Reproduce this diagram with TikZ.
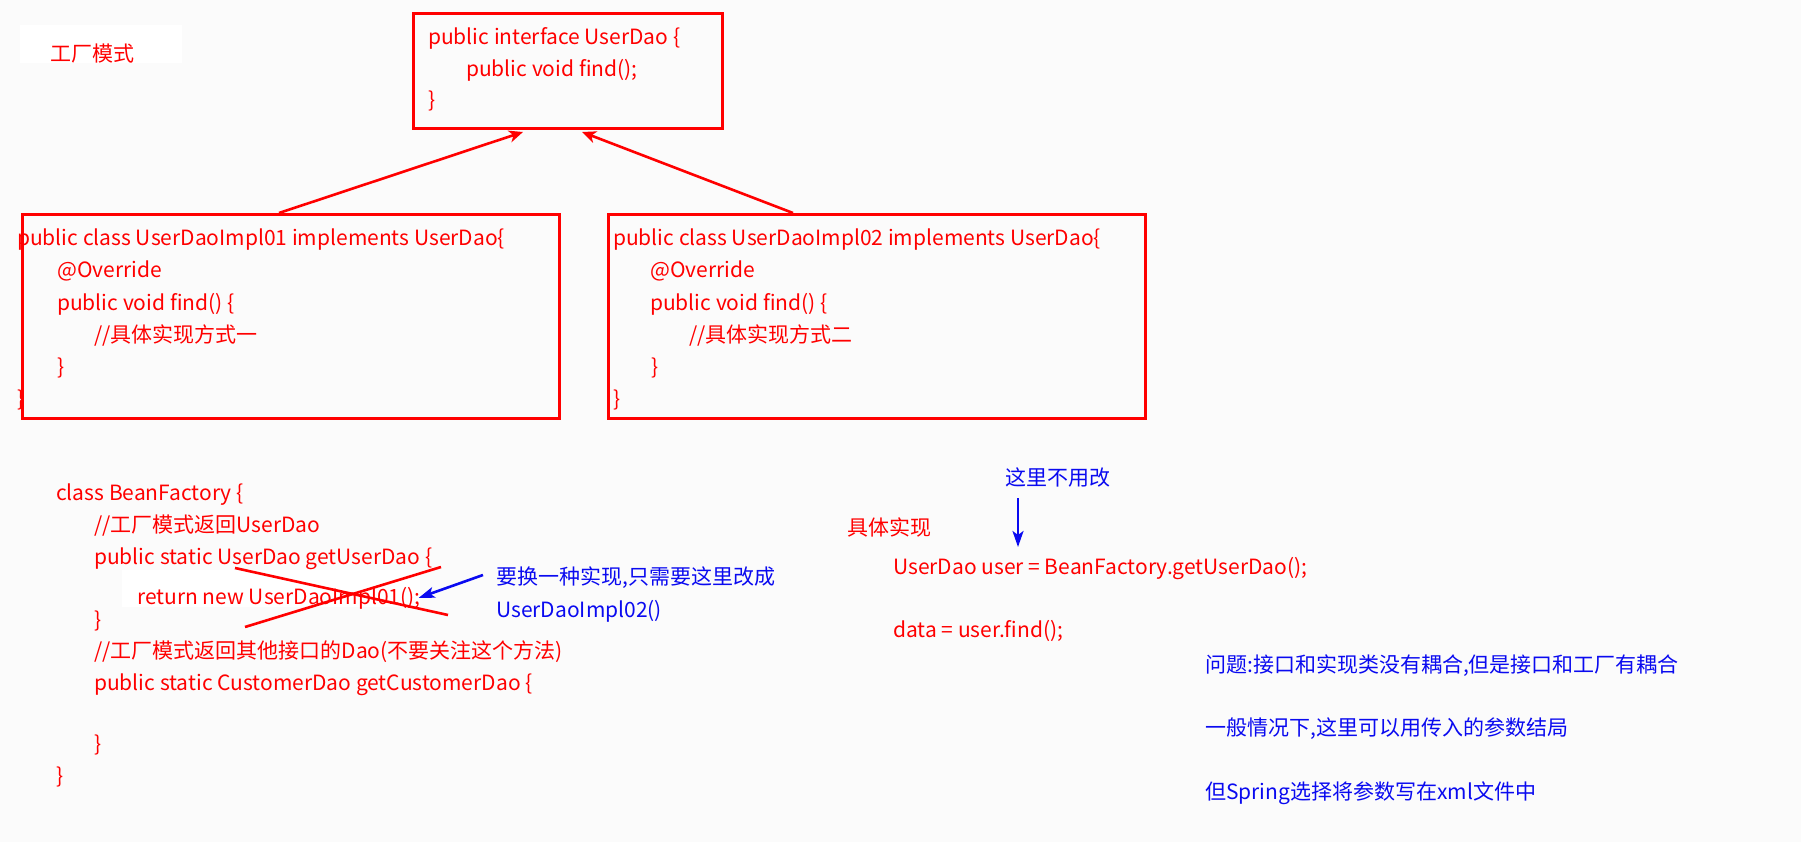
\documentclass[tikz,border=0pt]{standalone}
\usepackage{fontspec}
\setmainfont{Noto Sans CJK SC}
\usetikzlibrary{arrows.meta,calc}
\definecolor{pagebg}{RGB}{251,251,251}
\definecolor{codered}{RGB}{255,0,0}
\definecolor{noteblue}{RGB}{10,10,240}
\newcommand{\codesize}{\fontsize{21}{25}\selectfont}

\begin{document}
\begin{tikzpicture}[x=1pt,y=-1pt,
  redbox/.style={draw=codered, line width=3pt, anchor=north west, inner sep=0pt},
  codeline/.style={anchor=base west, inner sep=0pt, font=\codesize, text=codered},
  noteline/.style={anchor=base west, inner sep=0pt, font=\codesize, text=noteblue},
  implarrow/.style={draw=codered, line width=2.6pt, -{Stealth[length=14pt,width=12pt,inset=4pt]}},
  notearrow/.style={draw=noteblue, line width=2.6pt, -{Stealth[length=16pt,width=11pt,inset=4pt]}},
  strike/.style={draw=codered, line width=2.6pt}]

% page
\fill[pagebg] (0,0) rectangle (1801,842);
\useasboundingbox (0,0) rectangle (1801,842);

% title label
\fill[white] (20,25) rectangle (182,63);
\node[codeline] (title) at (50,62) {工厂模式};

% interface
\node[redbox, minimum width=309pt, minimum height=115pt] (iface) at (412,12) {};
\node[codeline] (if1) at (428,45) {public interface UserDao \{};
\node[codeline] (if2) at (466,77) {public void find();};
\node[codeline] (if3) at (428,108) {\}};

% implementation 01
\node[codeline] (a1) at (17,246) {public class UserDaoImpl01 implements UserDao\{};
\node[codeline] (a2) at (57,278) {@Override};
\node[codeline] (a3) at (57,310) {public void find() \{};
\node[codeline] (a4) at (94,342) {//具体实现方式一};
\node[codeline] (a5) at (57,374) {\}};
\node[codeline] (a6) at (17,406) {\}};
\node[redbox, fill=none, minimum width=537pt, minimum height=204pt] (impl1) at (21,213) {};

% implementation 02
\node[codeline] (b1) at (613,246) {public class UserDaoImpl02 implements UserDao\{};
\node[codeline] (b2) at (650,278) {@Override};
\node[codeline] (b3) at (650,310) {public void find() \{};
\node[codeline] (b4) at (689,342) {//具体实现方式二};
\node[codeline] (b5) at (651,374) {\}};
\node[codeline] (b6) at (613,406) {\}};
\node[redbox, minimum width=537pt, minimum height=204pt] (impl2) at (607,213) {};

% realisation arrows
\draw[implarrow] ([xshift=258pt]impl1.north west) -- ([xshift=111pt,yshift=-2pt]iface.south west);
\draw[implarrow] ([xshift=186pt]impl2.north west) -- ([xshift=170pt,yshift=-2pt]iface.south west);

% factory
\node[codeline] (f1) at (56,500) {class BeanFactory \{};
\node[codeline] (f2) at (94,532) {//工厂模式返回UserDao};
\node[codeline] (f3) at (94,564) {public static UserDao getUserDao \{};
\fill[white] (122,570) rectangle (420,607);
\node[codeline] (f4) at (137,604) {return new UserDaoImpl01();};
\node[codeline] (f5) at (94,627) {\}};
\node[codeline] (f6) at (94,658) {//工厂模式返回其他接口的Dao(不要关注这个方法)};
\node[codeline] (f7) at (94,690) {public static CustomerDao getCustomerDao \{};
\node[codeline] (f8) at (94,751) {\}};
\node[codeline] (f9) at (56,783) {\}};

% crossed-out return statement
\coordinate (x1a) at (235,568);
\coordinate (x1b) at (448,615);
\coordinate (x2a) at (441,567);
\coordinate (x2b) at (245,627);
\draw[strike] (x1a) -- (x1b);
\draw[strike] (x2a) -- (x2b);

% hint on the replacement
\node[noteline] (hint1) at (496,584) {要换一种实现,只需要这里改成};
\node[noteline] (hint2) at (496,617) {UserDaoImpl02()};
\coordinate (hintfrom) at (483,575);
\draw[notearrow] (hintfrom) -- ([xshift=-2pt]f4.east);

% client code
\node[noteline] (keep) at (1005,485) {这里不用改};
\node[codeline] (impl) at (847,535) {具体实现};
\node[codeline] (c1) at (893,574) {UserDao user = BeanFactory.getUserDao();};
\node[codeline] (c2) at (893,637) {data = user.find();};
\draw[notearrow] ([xshift=13pt,yshift=-13pt]keep.base west) -- ([xshift=125pt,yshift=27pt]c1.base west);

% remarks
\node[noteline] (r1) at (1205,672) {问题:接口和实现类没有耦合,但是接口和工厂有耦合};
\node[noteline] (r2) at (1205,735) {一般情况下,这里可以用传入的参数结局};
\node[noteline] (r3) at (1205,799) {但Spring选择将参数写在xml文件中};
\end{tikzpicture}
\end{document}
